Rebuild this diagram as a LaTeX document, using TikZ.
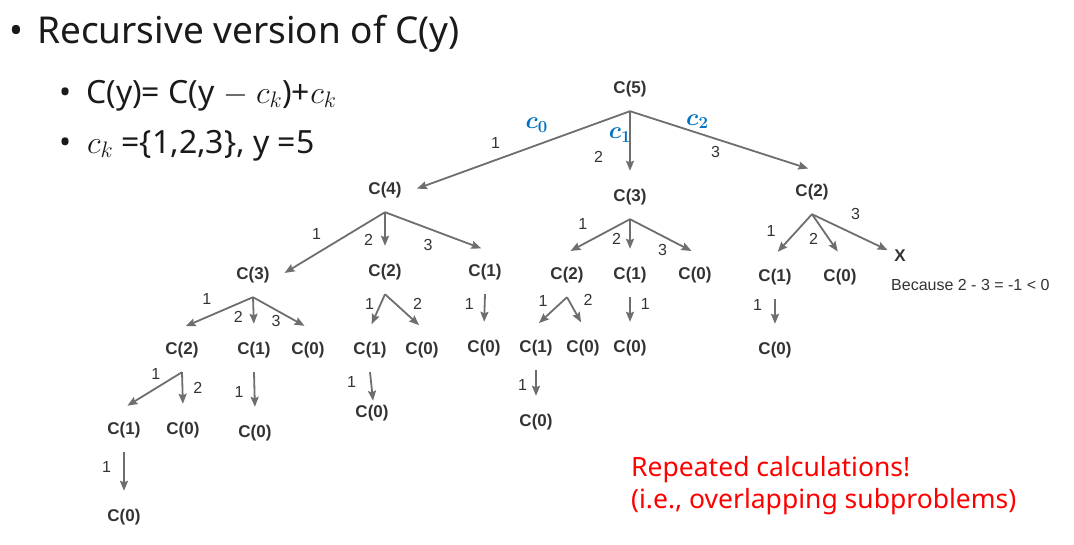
\documentclass[tikz,border=0pt]{standalone}
\usepackage{fix-cm}
\usepackage{fontspec}
\usepackage{amsmath,bm}
\setmainfont{Noto Sans}
\newfontfamily\treefont{Liberation Sans}
\usetikzlibrary{arrows.meta,positioning}
\definecolor{ink}     {HTML}{1A1A1A}
\definecolor{treeink} {HTML}{333333}
\definecolor{arrgray} {HTML}{6E6E6E}
\definecolor{ckblue}  {HTML}{0070C0}
\definecolor{notered} {HTML}{FF0000}
\tikzset{
  callnode/.style  ={minimum width=56pt, minimum height=44pt, inner sep=0pt,
                     font=\treefont\bfseries\fontsize{17}{17}\selectfont, text=treeink},
  treearr/.style   ={-{Stealth[length=10pt,width=8pt,inset=1.5pt]}, line width=1.8pt,
                     color=arrgray, shorten >=4pt},
  elbl/.style      ={font=\treefont\fontsize{16}{16}\selectfont, text=treeink, inner sep=2pt},
  cklbl/.style     ={font=\fontsize{24}{24}\selectfont, text=ckblue, inner sep=1pt},
  bullettext/.style={anchor=base west, inner sep=0pt, text=ink},
  redtext/.style   ={anchor=base west, inner sep=0pt, text=notered,
                     font=\fontsize{26.5}{30}\selectfont},
}

\begin{document}
\begin{tikzpicture}[x=1pt,y=-1pt]
  \useasboundingbox (0,0) rectangle (1074,544);

  % bullets
  \node[bullettext,font=\fontsize{37}{40}\selectfont] (bt) at (9,43) {•};
  \node[bullettext,font=\fontsize{37}{40}\selectfont] (title) at (37,43) {Recursive version of C(y)};
  \node[bullettext,font=\fontsize{32}{34}\selectfont] (b1) at (59,103) {•};
  \node[bullettext,font=\fontsize{32}{34}\selectfont] (rule) at (86,103) {C(y)=\ C(y $-$ $c_k$)+$c_k$};
  \node[bullettext,font=\fontsize{32}{34}\selectfont] (b2) at (59,153) {•};
  \node[bullettext,font=\fontsize{32}{34}\selectfont] (coins) at (87,153) {$c_k$ =\{1,2,3\}, y =5};

  % call tree
  \node[callnode] (n5) at (630,89) {C(5)};

  \node[callnode] (n4) at (385,190) {C(4)};
  \node[callnode] (n3) at (630,197) {C(3)};
  \node[callnode] (n2) at (812,192) {C(2)};

  \node[callnode] (n43) at (253,275) {C(3)};
  \node[callnode] (n42) at (385,272) {C(2)};
  \node[callnode] (n41) at (485,272) {C(1)};
  \node[callnode] (n32) at (567,275) {C(2)};
  \node[callnode] (n31) at (630,275) {C(1)};
  \node[callnode] (n30) at (695,275) {C(0)};
  \node[callnode] (n21) at (775,277) {C(1)};
  \node[callnode] (n20) at (840,277) {C(0)};
  \node[font=\treefont\bfseries\fontsize{17}{17}\selectfont, text=treeink, inner sep=3pt] (nx) at (900,256) {X};
  \node[anchor=west, inner sep=0pt, font=\treefont\fontsize{16}{16}\selectfont, text=treeink] (why) at (891,285) {Because 2 - 3 = -1 < 0};

  \node[callnode] (n432) at (182,350) {C(2)};
  \node[callnode] (n431) at (254,350) {C(1)};
  \node[callnode] (n430) at (308,350) {C(0)};
  \node[callnode] (n421) at (370,350) {C(1)};
  \node[callnode] (n420) at (422,350) {C(0)};
  \node[callnode] (n410) at (484,348) {C(0)};
  \node[callnode] (n321) at (536,348) {C(1)};
  \node[callnode] (n320) at (583,348) {C(0)};
  \node[callnode] (n310) at (630,348) {C(0)};
  \node[callnode] (n210) at (775,350) {C(0)};

  \node[callnode] (n4321) at (124,430) {C(1)};
  \node[callnode] (n4320) at (183,430) {C(0)};
  \node[callnode] (n4310) at (255,433) {C(0)};
  \node[callnode] (n4210) at (372,413) {C(0)};
  \node[callnode] (n3210) at (536,422) {C(0)};

  \node[callnode] (n43210) at (124,517) {C(0)};

  % edges
  \draw[treearr] (n5.south) -- node[elbl,pos=.62,above=9pt]{1}
                 node[cklbl,pos=.43,above=11pt]{$\bm{c_0}$} (n4.east);
  \draw[treearr] (n5.south) -- node[elbl,pos=.72,left=24pt]{2}
                 node[cklbl,pos=.38,anchor=east,xshift=3pt]{$\bm{c_1}$} (n3.north);
  \draw[treearr] (n5.south) -- node[elbl,pos=.47,below=5pt]{3}
                 node[cklbl,pos=.37,above=2pt]{$\bm{c_2}$} (n2.north);

  \draw[treearr] (n4.south) -- node[elbl,pos=.66,above=11pt]{1} (n43.east);
  \draw[treearr] (n4.south) -- node[elbl,pos=.75,left=9pt]{2} (n42.north);
  \draw[treearr] (n4.south) -- node[elbl,pos=.43,below=8pt]{3} (n41.north);

  \draw[treearr] (n3.south) -- node[elbl,pos=.75,above=12pt]{1} (n32.north);
  \draw[treearr] (n3.south) -- node[elbl,pos=.6,left=6pt]{2} (n31.north);
  \draw[treearr] (n3.south) -- node[elbl,pos=.5,below=5pt]{3} (n30.north);

  \draw[treearr] (n2.south) -- node[elbl,pos=.42,left=18pt]{1} (n21.north);
  \draw[treearr] (n2.south) -- node[elbl,pos=.6,left=8pt]{2} (n20.north);
  \draw[treearr] (n2.south) -- node[elbl,pos=.55,above=12pt]{3} (nx);

  \draw[treearr] (n43.south) -- node[elbl,pos=.65,above=10pt]{1} (n432.north);
  \draw[treearr] (n43.south) -- node[elbl,pos=.65,left=8pt]{2} (n431.north);
  \draw[treearr] (n43.south) -- node[elbl,pos=.42,below=2pt]{3} (n430.north);

  \draw[treearr] (n42.south) -- node[elbl,pos=.28,left=4pt]{1} (n421.north);
  \draw[treearr] (n42.south) -- node[elbl,pos=.3,right=14pt]{2} (n420.north);
  \draw[treearr] (n41.south) -- node[elbl,pos=.3,left=8pt]{1} (n410.north);

  \draw[treearr] (n32.south) -- node[elbl,pos=.15,left=12pt]{1} (n321.north);
  \draw[treearr] (n32.south) -- node[elbl,pos=.1,right=12pt]{2} (n320.north);
  \draw[treearr] (n31.south) -- node[elbl,pos=.25,right=8pt]{1} (n310.north);
  \draw[treearr] (n21.south) -- node[elbl,pos=.2,left=10pt]{1} (n210.north);

  \draw[treearr] (n432.south) -- node[elbl,pos=.45,above=6pt]{1} (n4321.north);
  \draw[treearr] (n432.south) -- node[elbl,pos=.45,right=8pt]{2} (n4320.north);
  \draw[treearr] (n431.south) -- node[elbl,pos=.5,left=8pt]{1} (n4310.north);
  \draw[treearr,shorten >=-10pt] (n421.south) -- node[elbl,pos=.5,left=12pt]{1} (n4210.north);
  \draw[treearr] (n321.south) -- node[elbl,pos=.5,left=6pt]{1} (n3210.north);
  \draw[treearr] (n4321.south) -- node[elbl,pos=.35,left=10pt]{1} (n43210.north);

  % note
  \node[redtext] (note1) at (631,476) {Repeated calculations!};
  \node[redtext] (note2) at (631,508) {(i.e., overlapping subproblems)};
\end{tikzpicture}
\end{document}
